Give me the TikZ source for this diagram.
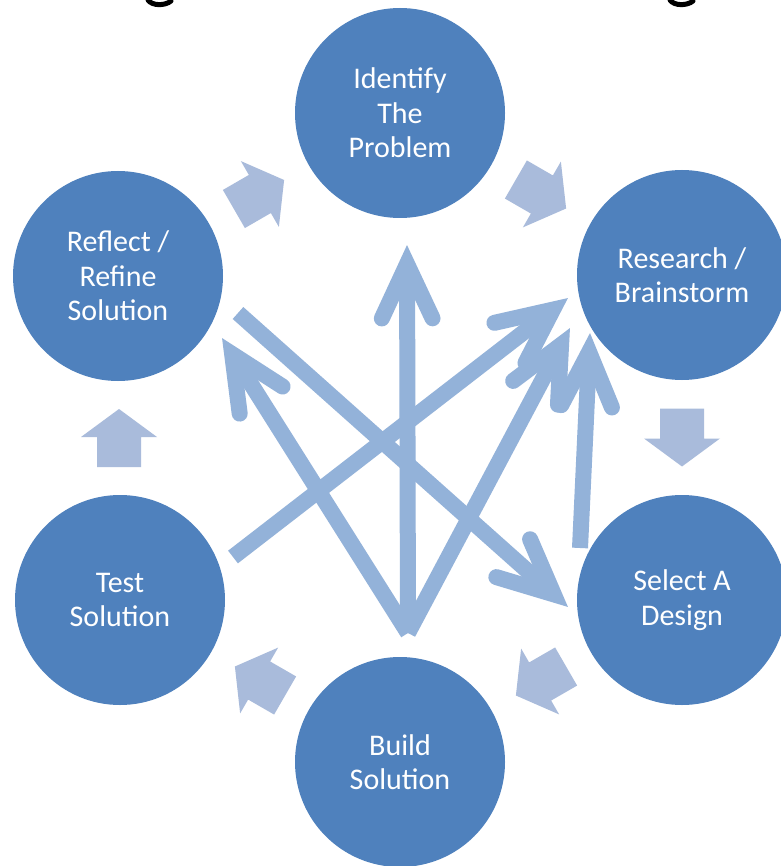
\documentclass[tikz,border=0pt]{standalone}
\usepackage{fontspec}
\setmainfont{Carlito}
\usetikzlibrary{calc}
\definecolor{circblue}{HTML}{4F81BD}
\definecolor{lineblue}{HTML}{93B2D9}
\definecolor{blockblue}{HTML}{A9BBDB}
\tikzset{
  stage/.style={circle, fill=circblue, minimum size=210pt, inner sep=0pt, text=white, align=center,
     font=\fontsize{30}{34.5}\selectfont},
  shaft/.style={draw=lineblue, line width=16pt, line cap=butt},
  head/.style={draw=lineblue, line width=16pt, line cap=round, line join=miter},
  blockfill/.style={fill=blockblue},
}
\newcommand\blkarrow[2]{\fill[blockfill, shift={#1}, rotate=#2] (-29,-22) -- (1,-22) -- (1,-38) -- (29,0) -- (1,38) -- (1,22) -- (-29,22) -- cycle;}
\newcommand\linearrow[2]{%
  \coordinate (v) at ($(#2)!19pt!(#1)$);
  \draw[shaft] (#1) -- (v);
  \draw[head] ($(v)!60pt!25:(#1)$) -- (v) -- ($(v)!60pt!-25:(#1)$);}
\begin{document}
\begin{tikzpicture}[x=1pt,y=-1pt]
\useasboundingbox (0,0) rectangle (780,866);
\fill[white] (0,0) rectangle (780,866);
% title fragments
\draw[black, line width=5pt, line cap=round] (148,0) .. controls (152,6) and (165,6) .. (171,1);
\draw[black, line width=5pt, line cap=round] (670,0) .. controls (674,6) and (687,6) .. (693,1);
% circles
\node[stage] (ide) at (400,113) {Identify\\The\\Problem};
\node[stage] (res) at (682,275) {Research /\\Brainstorm};
\node[stage] (sel) at (682,600) {Select A\\Design};
\node[stage] (bui) at (400,762) {Build\\Solution};
\node[stage] (tes) at (120,600) {Test\\Solution};
\node[stage] (ref) at (118,276) {Reflect /\\Refine\\Solution};
% block cycle arrows
\blkarrow{($(ref)!0.5!(ide)$)}{30}
\blkarrow{($(ide)!0.5!(res)$)}{-30}
\blkarrow{($(res)!0.5!(sel)$)}{-90}
\blkarrow{($(sel)!0.5!(bui)$)}{-150}
\blkarrow{($(bui)!0.5!(tes)$)}{150}
\blkarrow{($(tes)!0.5!(ref)$)}{90}
% line arrows
\coordinate (bot) at (408,633);
\coordinate (t1) at (407,245);
\coordinate (a2s) at (233,557);
\coordinate (t2) at (568,298);
\coordinate (a3s) at (238,313);
\coordinate (t3) at (568,607);
\coordinate (t4) at (222,338);
\coordinate (t5) at (570,328);
\coordinate (a6s) at (580,548);
\coordinate (t6) at (590,333);
\linearrow{a3s}{t3}
\linearrow{a2s}{t2}
\linearrow{bot}{t4}
\linearrow{bot}{t5}
\linearrow{a6s}{t6}
\linearrow{bot}{t1}
\end{tikzpicture}
\end{document}
